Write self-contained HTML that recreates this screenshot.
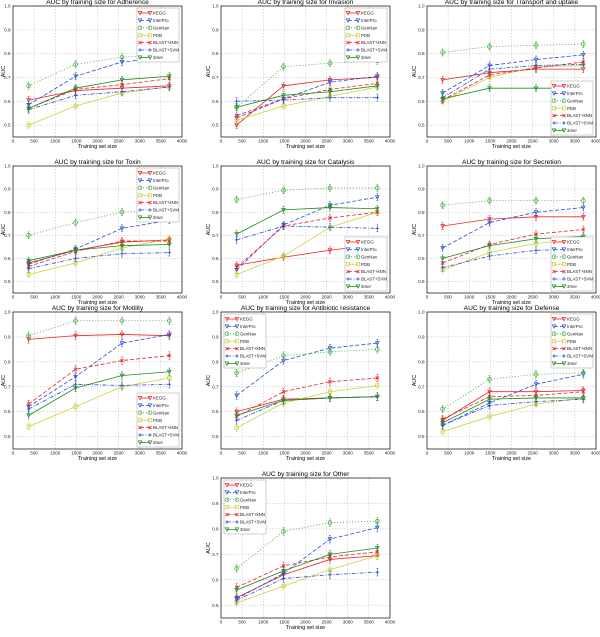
<!DOCTYPE html>
<html><head><meta charset="utf-8"><style>
html,body{margin:0;padding:0;background:#fff;}
svg{display:block;font-family:"Liberation Sans",sans-serif;}
</style></head><body>
<svg id="fig" width="600" height="637" viewBox="0 0 600 637" xmlns="http://www.w3.org/2000/svg"></svg>
<script>
const trainSizes=[370,1480,2580,3700];
const seriesNames=["KEGG","InterPro","GenNav","PDB","BLAST+kNN","BLAST+SVM","3mer"];
const xTicks=[0,500,1000,1500,2000,2500,3000,3500,4000];
const yTicks=[0.5,0.6,0.7,0.8,0.9,1.0];
const errBar=[0.015,0.015,0.015,0.015];
const adherence=[[0.605,0.645,0.655,0.665],[0.585,0.705,0.765,0.785],[0.665,0.755,0.785,0.795],[0.50,0.58,0.635,0.66],[0.57,0.65,0.67,0.695],[0.565,0.625,0.64,0.66],[0.57,0.655,0.69,0.705]];
const invasion=[[0.50,0.665,0.69,0.70],[0.53,0.61,0.68,0.705],[0.575,0.745,0.76,0.77],[0.52,0.58,0.62,0.66],[0.54,0.61,0.65,0.675],[0.60,0.605,0.615,0.615],[0.575,0.625,0.64,0.665]];
const transport=[[0.69,0.72,0.735,0.735],[0.635,0.75,0.775,0.795],[0.805,0.83,0.835,0.84],[0.60,0.70,0.745,0.75],[0.605,0.71,0.74,0.765],[0.615,0.735,0.75,0.755],[0.61,0.655,0.655,0.655]];
const toxin=[[0.58,0.635,0.67,0.68],[0.575,0.64,0.73,0.765],[0.70,0.755,0.80,0.81],[0.53,0.58,0.645,0.685],[0.565,0.63,0.675,0.675],[0.555,0.60,0.62,0.625],[0.59,0.635,0.655,0.66]];
const catalysis=[[0.57,0.605,0.635,0.66],[0.55,0.745,0.83,0.865],[0.855,0.895,0.905,0.905],[0.53,0.61,0.735,0.80],[0.56,0.74,0.775,0.80],[0.68,0.74,0.735,0.73],[0.705,0.81,0.82,0.815]];
const secretion=[[0.74,0.77,0.78,0.78],[0.645,0.755,0.80,0.82],[0.83,0.85,0.85,0.85],[0.55,0.625,0.665,0.685],[0.58,0.66,0.705,0.725],[0.56,0.61,0.635,0.64],[0.60,0.655,0.685,0.695]];
const motility=[[0.89,0.905,0.91,0.905],[0.62,0.74,0.875,0.91],[0.905,0.965,0.965,0.965],[0.54,0.62,0.70,0.735],[0.63,0.77,0.805,0.825],[0.61,0.71,0.705,0.71],[0.585,0.695,0.745,0.76]];
const antibiotic=[[0.60,0.65,0.655,0.66],[0.665,0.805,0.855,0.875],[0.755,0.825,0.84,0.85],[0.535,0.635,0.68,0.705],[0.58,0.68,0.72,0.735],[0.565,0.645,0.655,0.66],[0.585,0.645,0.655,0.66]];
const defense=[[0.565,0.68,0.68,0.685],[0.545,0.635,0.71,0.75],[0.61,0.73,0.75,0.755],[0.52,0.58,0.63,0.655],[0.57,0.66,0.665,0.68],[0.545,0.625,0.64,0.65],[0.555,0.65,0.655,0.655]];
const other=[[0.53,0.62,0.68,0.695],[0.525,0.625,0.76,0.805],[0.645,0.79,0.825,0.83],[0.51,0.575,0.64,0.695],[0.57,0.655,0.69,0.71],[0.52,0.605,0.62,0.63],[0.56,0.635,0.70,0.725]];

const styles=[
 {c:"#e8262a",d:"",m:"tri"},
 {c:"#2a4fd6",d:"4,2",m:"tri"},
 {c:"#3aa53a",d:"1,2",m:"circ"},
 {c:"#c8d43a",d:"",m:"sq"},
 {c:"#e8262a",d:"4,2",m:"x"},
 {c:"#2a4fd6",d:"4,1.5,1,1.5",m:"plus"},
 {c:"#1e8a1e",d:"",m:"tri"}];
const panels=[
 {t:"Adherence",d:adherence,x:13,y:6,h:131,leg:"tr",ax:3},
 {t:"Invasion",d:invasion,x:221,y:6,h:131,leg:"tr",ax:208},
 {t:"Transport and uptake",d:transport,x:427,y:6,h:131,leg:"br",ax:414},
 {t:"Toxin",d:toxin,x:13,y:166,h:127,leg:"tr",ax:3},
 {t:"Catalysis",d:catalysis,x:221,y:166,h:127,leg:"br",ax:208},
 {t:"Secretion",d:secretion,x:427,y:166,h:127,leg:"br",ax:414},
 {t:"Motility",d:motility,x:13,y:312,h:137,leg:"br",ax:3},
 {t:"Antibiotic resistance",d:antibiotic,x:221,y:312,h:137,leg:"tl",ax:208},
 {t:"Defense",d:defense,x:427,y:312,h:137,leg:"tr",ax:414},
 {t:"Other",d:other,x:221,y:478,h:140,leg:"tl",ax:208}];
const PW=169;
const NS="http://www.w3.org/2000/svg";
const svg=document.getElementById("fig");
function mk(tag,attrs,parent){const e=document.createElementNS(NS,tag);for(const k in attrs)e.setAttribute(k,attrs[k]);(parent||svg).appendChild(e);return e;}
function marker(g,m,cx,cy,c){
 let e;
 if(m==="tri"){e=mk("path",{d:`M${cx-1.8},${cy-1.5}L${cx+1.8},${cy-1.5}L${cx},${cy+1.8}Z`,fill:"none",stroke:c,"stroke-width":0.7},g);}
 else if(m==="circ"){e=mk("circle",{cx:cx,cy:cy,r:1.9,fill:"none",stroke:c,"stroke-width":0.7},g);}
 else if(m==="sq"){e=mk("rect",{x:cx-1.7,y:cy-1.7,width:3.4,height:3.4,fill:"none",stroke:c,"stroke-width":0.7},g);}
 else if(m==="x"){e=mk("path",{d:`M${cx-1.6},${cy-1.6}L${cx+1.6},${cy+1.6}M${cx-1.6},${cy+1.6}L${cx+1.6},${cy-1.6}`,stroke:c,"stroke-width":0.8},g);}
 else {e=mk("path",{d:`M${cx-1.8},${cy}L${cx+1.8},${cy}M${cx},${cy-1.8}L${cx},${cy+1.8}`,stroke:c,"stroke-width":0.8},g);}
 
 
}
panels.forEach((p,pi)=>{
 const PH=p.h;
 const g=mk("g",{});
 
 
 const sx=v=>p.x+v/4000*PW;
 const sy=v=>p.y+PH-(v-0.45)/0.55*PH;
 const title=mk("text",{x:p.x+PW/2,y:p.y-2,"font-size":6.6,"text-anchor":"middle",fill:"#000"},g);
 title.textContent="AUC by training size for "+p.t;
 
 
 mk("rect",{x:p.x,y:p.y,width:PW,height:PH,fill:"#fff",stroke:"none"},g);
 xTicks.forEach(t=>{
  const X=sx(t);
  if(t>0&&t<4000){const gl=mk("line",{x1:X,y1:p.y,x2:X,y2:p.y+PH,stroke:"#aaa","stroke-width":0.4,"stroke-dasharray":"1.5,1.5"},g);
  
  }
  const tl=mk("text",{x:X,y:p.y+PH+5.5,"font-size":4.6,"text-anchor":"middle",fill:"#222"},g);
  tl.textContent=t;
  
  
 });
 yTicks.forEach(t=>{
  const Y=sy(t);
  if(t<1.0){const gl=mk("line",{x1:p.x,y1:Y,x2:p.x+PW,y2:Y,stroke:"#aaa","stroke-width":0.4,"stroke-dasharray":"1.5,1.5"},g);
  
  }
  const tl=mk("text",{x:p.x-2.5,y:Y+1.6,"font-size":4.6,"text-anchor":"end",fill:"#222"},g);
  tl.textContent=t.toFixed(1);
  
  
 });
 const xl=mk("text",{x:p.x+PW/2,y:p.y+PH+11,"font-size":5.4,"text-anchor":"middle",fill:"#000"},g);
 xl.textContent="Training set size";
 
 
 const yl=mk("text",{x:0,y:0,"font-size":5.4,"text-anchor":"middle",fill:"#000",transform:`translate(${p.ax+2},${p.y+PH/2}) rotate(-90)`},g);
 yl.textContent="AUC";
 
 
 p.d.forEach((vals,si)=>{
  const s=styles[si];
  const pts=vals.map((v,i)=>sx(trainSizes[i])+","+sy(v)).join(" ");
  const pl=mk("polyline",{points:pts,fill:"none",stroke:s.c,"stroke-width":0.8,"stroke-dasharray":s.d},g);
  
  
  vals.forEach((v,i)=>{
   const X=sx(trainSizes[i]);
   const eb=mk("path",{d:`M${X},${sy(v-errBar[i])}L${X},${sy(v+errBar[i])}M${X-1},${sy(v-errBar[i])}L${X+1},${sy(v-errBar[i])}M${X-1},${sy(v+errBar[i])}L${X+1},${sy(v+errBar[i])}`,stroke:s.c,"stroke-width":0.5},g);
   
   
   marker(g,s.m,X,sy(v),s.c);
  });
 });
 const fr=mk("rect",{x:p.x,y:p.y,width:PW,height:PH,fill:"none",stroke:"#000","stroke-width":0.7},g);
 
 
 const LW=42,LH=54;
 let lx=p.leg==="tl"?p.x+3:p.x+PW-LW-3;
 let ly=p.leg==="br"?p.y+PH-LH-2:p.y+2;
 const lg=mk("g",{},g);
 
 
 mk("rect",{x:lx,y:ly,width:LW,height:LH,fill:"#fff",stroke:"#888","stroke-width":0.4},lg);
 seriesNames.forEach((n,si)=>{
  const s=styles[si];const yy=ly+5+si*7.4;
  const ent=mk("g",{},lg);
  
  
  mk("line",{x1:lx+3,y1:yy,x2:lx+13,y2:yy,stroke:s.c,"stroke-width":0.8,"stroke-dasharray":s.d},ent);
  marker(ent,s.m,lx+3,yy,s.c);marker(ent,s.m,lx+13,yy,s.c);
  const tx=mk("text",{x:lx+16,y:yy+1.6,"font-size":4.4,fill:"#222"},ent);
  tx.textContent=n;
 });
});
</script>
</body></html>
